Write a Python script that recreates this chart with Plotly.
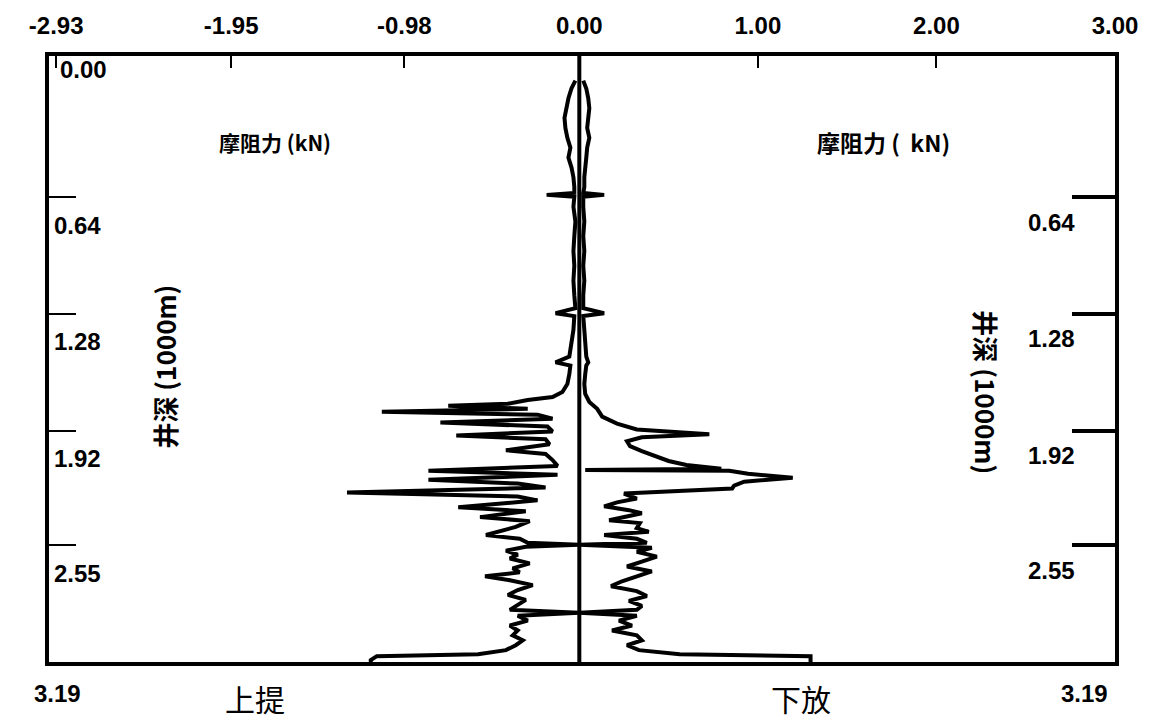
import plotly.graph_objects as go

# ---- data ----
# 上提 (pull-up) friction curve: depth (1000 m) and drag force
pull_depth = [0.000, 0.043, 0.097, 0.151, 0.205, 0.260, 0.314, 0.368, 0.422, 0.476,
              0.530, 0.584, 0.616, 0.627, 0.638, 0.692, 0.773, 0.854, 0.935, 1.016,
              1.098, 1.179, 1.249, 1.276, 1.292, 1.368, 1.449, 1.514, 1.546, 1.563,
              1.611, 1.665, 1.709, 1.736, 1.752, 1.773, 1.784, 1.801, 1.817, 1.833,
              1.855, 1.876, 1.898, 1.925, 1.947, 1.968, 1.995, 2.028, 2.049, 2.082,
              2.114, 2.141, 2.163, 2.190, 2.211, 2.233, 2.260, 2.282, 2.303, 2.341,
              2.363, 2.395, 2.417, 2.449, 2.493, 2.514, 2.536, 2.547, 2.558, 2.579,
              2.601, 2.622, 2.649, 2.676, 2.698, 2.720, 2.741, 2.768, 2.795, 2.822,
              2.849, 2.877, 2.904, 2.920, 2.936, 2.963, 2.990, 3.017, 3.044, 3.071,
              3.098, 3.125, 3.147, 3.158, 3.180, 3.190]
pull_force = [-0.022, -0.044, -0.061, -0.072, -0.083, -0.078, -0.067, -0.050, -0.061, -0.044,
              -0.033, -0.028, -0.028, -0.183, -0.028, -0.033, -0.022, -0.028, -0.033, -0.028,
              -0.033, -0.028, -0.022, -0.133, -0.028, -0.033, -0.044, -0.056, -0.133, -0.050,
              -0.056, -0.067, -0.095, -0.150, -0.289, -0.400, -0.734, -0.289, -1.106, -0.234,
              -0.150, -0.778, -0.178, -0.150, -0.689, -0.189, -0.167, -0.411, -0.189, -0.150,
              -0.122, -0.845, -0.122, -0.845, -0.345, -0.189, -1.301, -0.345, -0.234, -0.678,
              -0.300, -0.556, -0.278, -0.356, -0.523, -0.334, -0.289, 0.000, -0.300, -0.411,
              -0.345, -0.389, -0.278, -0.373, -0.334, -0.528, -0.389, -0.261, -0.345, -0.400,
              -0.300, -0.345, -0.389, 0.000, -0.345, -0.289, -0.389, -0.345, -0.373, -0.317,
              -0.356, -0.411, -0.567, -1.134, -1.168, -1.168]

# 下放 (run-in) friction curve
run_depth = [0.000, 0.043, 0.097, 0.151, 0.205, 0.260, 0.314, 0.368, 0.422, 0.476,
             0.530, 0.584, 0.616, 0.627, 0.638, 0.692, 0.773, 0.854, 0.935, 1.016,
             1.098, 1.179, 1.249, 1.276, 1.292, 1.368, 1.449, 1.514, 1.546, 1.563,
             1.611, 1.665, 1.719, 1.763, 1.801, 1.844, 1.882, 1.914, 1.941, 1.957,
             1.979, 2.006, 2.033, 2.060, 2.087, 2.109, 2.130, 2.136, 2.141, 2.157,
             2.179, 2.201, 2.222, 2.238, 2.255, 2.266, 2.293, 2.314, 2.336, 2.357,
             2.374, 2.395, 2.412, 2.428, 2.455, 2.476, 2.493, 2.514, 2.536, 2.547,
             2.563, 2.585, 2.612, 2.639, 2.666, 2.693, 2.720, 2.747, 2.774, 2.801,
             2.828, 2.855, 2.882, 2.904, 2.920, 2.936, 2.963, 2.990, 3.017, 3.044,
             3.071, 3.098, 3.125, 3.147, 3.158, 3.180, 3.190]
run_force = [0.022, 0.039, 0.050, 0.056, 0.050, 0.044, 0.056, 0.044, 0.039, 0.033,
             0.028, 0.028, 0.022, 0.139, 0.022, 0.022, 0.028, 0.022, 0.028, 0.022,
             0.028, 0.022, 0.022, 0.139, 0.022, 0.028, 0.033, 0.039, 0.050, 0.039,
             0.033, 0.028, 0.033, 0.056, 0.100, 0.128, 0.211, 0.322, 0.728, 0.350,
             0.267, 0.284, 0.350, 0.423, 0.500, 0.600, 0.795, 0.033, 0.840, 0.945,
             1.195, 0.923, 0.867, 0.856, 0.434, 0.250, 0.322, 0.211, 0.139, 0.278,
             0.350, 0.239, 0.167, 0.339, 0.322, 0.389, 0.139, 0.322, 0.378, 0.000,
             0.406, 0.322, 0.434, 0.350, 0.267, 0.406, 0.322, 0.239, 0.178, 0.322,
             0.378, 0.278, 0.350, 0.322, 0.000, 0.322, 0.222, 0.295, 0.183, 0.322,
             0.350, 0.267, 0.334, 0.562, 1.295, 1.295, 1.295]

# axes
x_tick_vals = [-2.93, -1.95, -0.98, 0.00, 1.00, 2.00, 3.00]
x_tick_text = ["-2.93", "-1.95", "-0.98", "0.00", "1.00", "2.00", "3.00"]
depth_ticks = [0.64, 1.28, 1.92, 2.55]
depth_top_label = 0.00
depth_max = 3.19
x_range = [-2.97, 3.00]
y_range = [3.19, -0.135]

NUM_FONT = "Liberation Sans, Arial, sans-serif"
CJK_FONT = "Noto Sans CJK SC, sans-serif"
LW = 4

fig = go.Figure()
fig.add_trace(go.Scatter(x=pull_force, y=pull_depth, mode="lines", name="上提",
                         line=dict(color="black", width=LW)))
fig.add_trace(go.Scatter(x=run_force, y=run_depth, mode="lines", name="下放", yaxis="y2",
                         line=dict(color="black", width=LW)))

# zero reference line across the whole depth axis
fig.add_shape(type="line", xref="x", x0=0, x1=0, yref="y domain", y0=0, y1=1,
              line=dict(color="black", width=LW))

numfont = dict(family=NUM_FONT, size=24, color="black", weight="bold")

fig.update_layout(
    width=1157, height=719,
    margin=dict(l=49, r=42, t=47, b=57),
    paper_bgcolor="white", plot_bgcolor="white",
    showlegend=False,
    xaxis=dict(range=x_range, side="top", tickvals=x_tick_vals, ticktext=x_tick_text,
               ticks="inside", ticklen=12, tickwidth=2, tickcolor="black",
               showline=True, linewidth=4, linecolor="black", mirror=True,
               showgrid=False, zeroline=False, ticklabelstandoff=8,
               tickfont=numfont),
    yaxis=dict(range=y_range, tickvals=depth_ticks, ticks="inside", ticklen=27,
               tickwidth=2, tickcolor="black", showticklabels=False,
               showline=True, linewidth=4, linecolor="black", mirror=True,
               showgrid=False, zeroline=False),
    yaxis2=dict(range=y_range, overlaying="y", side="right", anchor="x",
                tickvals=depth_ticks, ticks="inside", ticklen=43, tickwidth=4,
                tickcolor="black", showticklabels=False, showline=False,
                showgrid=False, zeroline=False),
)

ann = []
# depth tick labels drawn inside the frame, below their ticks
ann.append(dict(x=0, xref="paper", xanchor="left", xshift=9,
                y=1, yref="paper", yanchor="middle", yshift=-13,
                text=f"{depth_top_label:.2f}", showarrow=False, font=numfont))
for tv in depth_ticks:
    ann.append(dict(x=0, xref="paper", xanchor="left", xshift=3,
                    y=tv, yref="y", yanchor="middle", yshift=-28,
                    text=f"{tv:.2f}", showarrow=False, font=numfont))
    ann.append(dict(x=1, xref="paper", xanchor="right", xshift=-38,
                    y=tv, yref="y", yanchor="middle", yshift=-25,
                    text=f"{tv:.2f}", showarrow=False, font=numfont))
ann.append(dict(x=0, xref="paper", xanchor="center", xshift=8, y=0, yref="paper",
                yanchor="middle", yshift=-31, text=f"{depth_max:.2f}", showarrow=False,
                font=numfont))
ann.append(dict(x=1, xref="paper", xanchor="center", xshift=-31, y=0, yref="paper",
                yanchor="middle", yshift=-31, text=f"{depth_max:.2f}", showarrow=False,
                font=numfont))

labfont = dict(family=CJK_FONT, size=21, color="black", weight="bold")
ann.append(dict(x=(275 - 49) / 1064, y=1, xref="paper", yref="paper", xanchor="center",
                yanchor="middle", yshift=-86, text="摩阻力 (kN)",
                showarrow=False, font=labfont))
ann.append(dict(x=(882 - 49) / 1064, y=1, xref="paper", yref="paper", xanchor="center",
                yanchor="middle", yshift=-86, text="摩阻力 (  kN)",
                showarrow=False, font=dict(family=CJK_FONT, size=23, color="black",
                                           weight="bold")))

titfont = dict(family=CJK_FONT, size=26, color="black", weight="bold")
ann.append(dict(x=(164 - 49) / 1064, y=(662 - 362) / 615, xref="paper", yref="paper",
                xanchor="center", yanchor="middle", text="井深 (1000m)",
                textangle=-90, showarrow=False, font=titfont))
ann.append(dict(x=(985 - 49) / 1064, y=(662 - 388) / 615, xref="paper", yref="paper",
                xanchor="center", yanchor="middle", text="井深 (1000m)",
                textangle=90, showarrow=False, font=titfont))

bigfont = dict(family=CJK_FONT, size=30, color="black")
ann.append(dict(x=(255 - 49) / 1064, y=0, xref="paper", yref="paper", xanchor="center",
                yanchor="middle", yshift=-36, text="上提", showarrow=False, font=bigfont))
ann.append(dict(x=(800 - 49) / 1064, y=0, xref="paper", yref="paper", xanchor="center",
                yanchor="middle", yshift=-36, text="下放", showarrow=False, font=bigfont))

fig.update_layout(annotations=ann)
fig.write_html("out.html")
